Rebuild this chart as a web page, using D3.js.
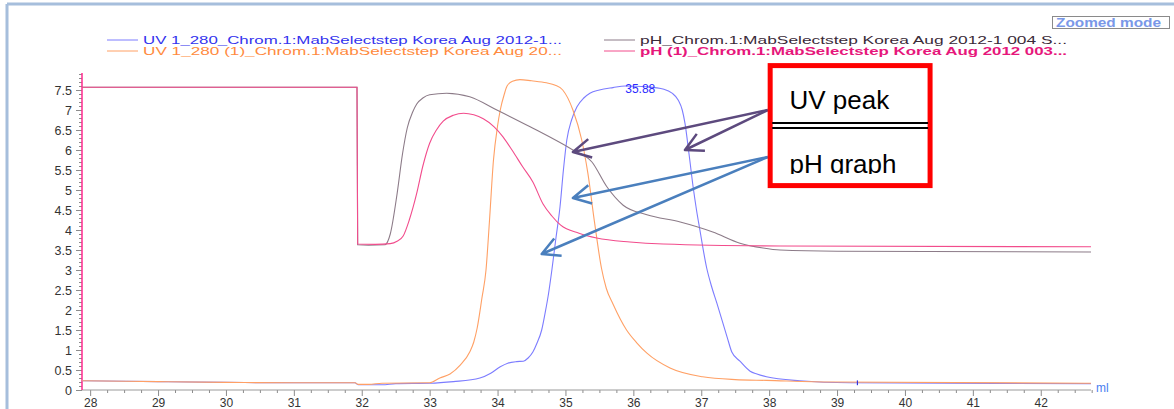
<!DOCTYPE html>
<html>
<head>
<meta charset="utf-8">
<script src="https://cdn.jsdelivr.net/npm/d3@7/dist/d3.min.js"></script>
<style>
  body { margin: 0; background: #fff; }
  svg text { font-family: "Liberation Sans", Arial, sans-serif; }
</style>
</head>
<body>
<svg id="chart" width="1174" height="409"></svg>
<script>
// [ml, value]
var uv280 = [[27.88,0.23],[29,0.21],[30,0.19],[31,0.18],[31.9,0.18],[31.95,0.13],[32.3,0.13],[32.5,0.16],[33.0,0.17],
  [33.35,0.21],[33.74,0.3],[33.9,0.42],[34.04,0.58],[34.15,0.67],[34.28,0.71],[34.38,0.72],[34.45,0.8],[34.52,0.95],
  [34.58,1.17],[34.65,1.5],[34.7,1.92],[34.75,2.4],[34.8,3.0],[34.86,3.8],[34.92,4.58],[34.97,5.5],[35.02,6.25],
  [35.09,6.75],[35.17,7.08],[35.27,7.3],[35.36,7.42],[35.5,7.5],[35.7,7.56],[35.88,7.6],[36.2,7.58],[36.45,7.52],
  [36.57,7.42],[36.66,7.25],[36.72,7.0],[36.76,6.67],[36.82,5.9],[36.88,5.08],[36.93,4.5],[36.98,4.0],[37.08,3.05],
  [37.15,2.6],[37.23,2.17],[37.38,1.33],[37.45,0.95],[37.57,0.72],[37.72,0.47],[37.82,0.4],[37.96,0.33],[38.45,0.23],
  [39.19,0.18],[42.74,0.16]];
var uv280b = [[27.88,0.23],[29,0.21],[30,0.19],[31,0.18],[31.9,0.18],[31.95,0.14],[32.1,0.14],[32.3,0.17],[33.0,0.18],
  [33.15,0.3],[33.3,0.4],[33.45,0.62],[33.59,0.95],[33.65,1.2],[33.7,1.55],[33.77,2.3],[33.83,3.0],[33.88,4.2],
  [33.94,5.75],[34.0,6.6],[34.04,7.0],[34.1,7.4],[34.14,7.6],[34.22,7.72],[34.33,7.76],[34.5,7.73],[34.72,7.68],
  [34.85,7.62],[34.96,7.5],[35.11,7.0],[35.24,6.25],[35.33,5.42],[35.43,4.17],[35.53,3.05],[35.6,2.55],[35.7,2.15],
  [35.9,1.5],[36.05,1.18],[36.2,0.92],[36.54,0.55],[37.02,0.33],[37.5,0.26],[37.96,0.24],[38.94,0.2],[42.74,0.17]];
var phMain = [[27.88,7.57],[31.93,7.57],[31.94,3.63],[32.1,3.62],[32.34,3.63],[32.42,3.9],[32.52,4.9],[32.6,5.9],
  [32.67,6.55],[32.75,6.95],[32.81,7.15],[32.9,7.3],[33.0,7.38],[33.25,7.42],[33.59,7.33],[33.99,7.0],[34.48,6.58],
  [35.11,6.0],[35.39,5.7],[35.61,5.08],[35.85,4.62],[36.2,4.38],[36.69,4.2],[37.17,3.95],[37.57,3.67],[37.91,3.55],
  [38.16,3.5],[39,3.47],[42.74,3.45]];
var phB = [[27.88,7.57],[31.93,7.57],[31.94,3.65],[32.2,3.64],[32.42,3.66],[32.52,3.72],[32.61,3.85],[32.7,4.25],
  [32.81,4.92],[32.9,5.6],[33.0,6.17],[33.1,6.5],[33.2,6.72],[33.35,6.87],[33.5,6.92],[33.65,6.88],[33.79,6.78],
  [33.95,6.58],[34.08,6.33],[34.22,5.98],[34.37,5.58],[34.52,5.2],[34.67,4.65],[34.8,4.35],[34.93,4.12],[35.2,3.92],
  [35.46,3.8],[35.95,3.7],[36.44,3.65],[38.16,3.6],[42.74,3.58]];

var seriesNames = ["UV 1_280_Chrom.1:MabSelectstep Korea Aug 2012-1...",
  "pH_Chrom.1:MabSelectstep Korea Aug 2012-1 004 S...",
  "UV 1_280 (1)_Chrom.1:MabSelectstep Korea Aug 20...",
  "pH (1)_Chrom.1:MabSelectstep Korea Aug 2012 003..."];
var xTicks = [28,29,30,31,32,33,34,35,36,37,38,39,40,41,42];
var yTicks = [0,0.5,1,1.5,2,2.5,3,3.5,4,4.5,5,5.5,6,6.5,7,7.5];
var peakLabel = [[35.88, 7.58, "35.88"]];
var fractionMarks = [39.3];

// annotation pasted on top: arrows [fromMl, fromPh, toMl, toPh]
var uvArrows = [[37.98,7.0,35.11,5.95],[37.98,7.0,36.76,6.0]];
var phArrows = [[37.98,5.825,35.11,4.8],[37.98,5.825,34.65,3.4]];

var lineColors = ["#7c7cff", "#8c7b88", "#ffa065", "#f24c8c"];
var textColors = ["#3333ee", "#3a2a38", "#ff8a3d", "#e6177b"];

var svg = d3.select("#chart");
var x = d3.scaleLinear().domain([27.88, 42.74]).range([82, 1091]);
var y = d3.scaleLinear().domain([0, 7.925]).range([390, 73]);

// frame
svg.append("line").attr("x1", 7).attr("x2", 1174).attr("y1", 4).attr("y2", 4)
  .attr("stroke", "#a6bedc").attr("stroke-width", 3);
svg.append("line").attr("x1", 7).attr("x2", 7).attr("y1", 4).attr("y2", 409)
  .attr("stroke", "#a6bedc").attr("stroke-width", 3);

// zoomed mode badge
svg.append("rect").attr("x", 1052.5).attr("y", 16.5).attr("width", 117).attr("height", 12)
  .attr("fill", "#fff").attr("stroke", "#8a8a8a");
svg.append("text").attr("x", 1056).attr("y", 26.5).attr("font-size", 12).attr("font-weight", "bold")
  .attr("fill", "#7a98e8").attr("textLength", 105).attr("lengthAdjust", "spacingAndGlyphs").text("Zoomed mode");

// legend
var legend = svg.append("g");
seriesNames.forEach(function(name, i) {
  var lx = i % 2 === 0 ? 107 : 604, ly = i < 2 ? 44 : 55;
  legend.append("line").attr("x1", lx).attr("x2", lx + 31).attr("y1", ly - 4).attr("y2", ly - 4)
    .attr("stroke", lineColors[i]).attr("stroke-width", 1);
  legend.append("text").attr("x", lx + 36).attr("y", ly).attr("font-size", 11)
    .attr("font-weight", i === 3 ? "bold" : "normal")
    .attr("fill", textColors[i]).attr("textLength", i % 2 === 0 ? 419 : 427)
    .attr("lengthAdjust", "spacingAndGlyphs").text(name);
});

// axes
var minorX = d3.range(27.75, 42.76, 0.25).filter(function(d) { return d >= 27.88 && d % 1 !== 0; });
var minorY = d3.range(0, 80).map(function(d) { return d / 10; }).filter(function(d) { return (d * 10) % 5 !== 0; });

var gx = svg.append("g").attr("transform", "translate(0,390)");
gx.call(d3.axisBottom(x).tickValues(xTicks).tickSize(6).tickPadding(2).tickFormat(d3.format("d")));
gx.append("g").call(d3.axisBottom(x).tickValues(minorX).tickSize(3).tickFormat(""));
gx.selectAll(".domain").remove();
gx.selectAll("line").attr("stroke", "#8c8c8c");
gx.selectAll("text").attr("font-size", 12).attr("fill", "#333")
  .attr("font-family", "'Liberation Sans', Arial, sans-serif");
gx.append("line").attr("x1", 82).attr("x2", 1091).attr("stroke", "#9a9a9a");
svg.append("text").attr("x", 1096).attr("y", 392).attr("font-size", 12).attr("fill", "#4a7ef0").text("ml");

var gy = svg.append("g").attr("transform", "translate(82,0)");
gy.call(d3.axisLeft(y).tickValues(yTicks).tickSize(6).tickPadding(4).tickFormat(function(d) { return d; }));
gy.append("g").call(d3.axisLeft(y).tickValues(minorY).tickSize(3).tickFormat(""));
gy.selectAll(".domain").remove();
gy.selectAll("line").attr("stroke", "#8c8c8c");
gy.selectAll("text").attr("font-size", 12.5).attr("fill", "#333")
  .attr("font-family", "'Liberation Sans', Arial, sans-serif");
gy.append("line").attr("y1", 73).attr("y2", 390).attr("stroke", "#ff2a8e").attr("stroke-width", 1.5);

// curves
var line = d3.line().x(function(d) { return x(d[0]); }).y(function(d) { return y(d[1]); })
  .curve(d3.curveMonotoneX);
var plot = svg.append("g").attr("fill", "none");
[uv280, uv280b, phMain, phB].forEach(function(s, i) {
  var c = [lineColors[0], lineColors[2], lineColors[1], lineColors[3]][i];
  plot.append("path").datum(s).attr("d", line).attr("stroke", c).attr("stroke-width", 1.1);
});

fractionMarks.forEach(function(m) {
  svg.append("line").attr("x1", x(m)).attr("x2", x(m)).attr("y1", y(0.12)).attr("y2", y(0.24))
    .attr("stroke", "#3333dd").attr("stroke-width", 1.2);
});

svg.selectAll(".peak").data(peakLabel).enter().append("text")
  .attr("x", function(d) { return x(d[0]); }).attr("y", function(d) { return y(d[1]) + 6; })
  .attr("font-size", 12).attr("fill", "#2a2aff").text(function(d) { return d[2]; });

// arrows
function drawArrow(a, color) {
  var x1 = x(a[0]), y1 = y(a[1]), x2 = x(a[2]), y2 = y(a[3]);
  var ang = Math.atan2(y1 - y2, x1 - x2), len = 20, spread = 28 * Math.PI / 180;
  var p = d3.path();
  p.moveTo(x1, y1); p.lineTo(x2, y2);
  p.moveTo(x2 + len * Math.cos(ang - spread), y2 + len * Math.sin(ang - spread));
  p.lineTo(x2, y2);
  p.lineTo(x2 + len * Math.cos(ang + spread), y2 + len * Math.sin(ang + spread));
  svg.append("path").attr("d", p.toString()).attr("fill", "none").attr("stroke", color)
    .attr("stroke-width", 2.5).attr("stroke-linejoin", "round");
}
uvArrows.forEach(function(a) { drawArrow(a, "#5d4a7e"); });
phArrows.forEach(function(a) { drawArrow(a, "#4a7fbd"); });

// callout box
var bx0 = x(38.015), bx1 = x(40.37), by0 = y(8.11), by1 = y(5.11);
svg.append("defs").append("clipPath").attr("id", "boxclip").append("rect")
  .attr("x", bx0).attr("y", by0).attr("width", bx1 - bx0).attr("height", y(5.4) - by0);
var box = svg.append("g");
box.append("rect").attr("x", bx0).attr("y", by0).attr("width", bx1 - bx0).attr("height", by1 - by0)
  .attr("fill", "#fff").attr("stroke", "#ff0000").attr("stroke-width", 5);
[6.675, 6.55].forEach(function(v) {
  box.append("line").attr("x1", bx0 + 2).attr("x2", bx1 - 2).attr("y1", y(v)).attr("y2", y(v))
    .attr("stroke", "#000").attr("stroke-width", 2);
});
box.append("text").attr("x", x(38.3)).attr("y", y(7.025)).attr("font-size", 26)
  .attr("font-family", "'Noto Sans', sans-serif").attr("fill", "#000").text("UV peak");
box.append("text").attr("x", x(38.3)).attr("y", y(5.425)).attr("font-size", 26)
  .attr("clip-path", "url(#boxclip)")
  .attr("font-family", "'Noto Sans', sans-serif").attr("fill", "#000").text("pH graph");
</script>
</body>
</html>
